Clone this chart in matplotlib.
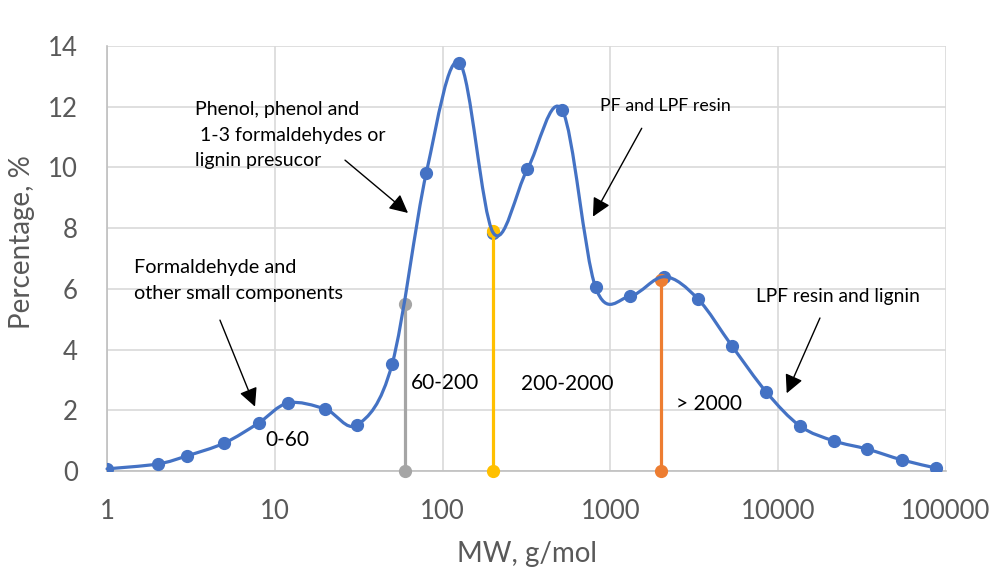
import numpy as np
import matplotlib
matplotlib.use("Agg")
import matplotlib.pyplot as plt
from matplotlib.path import Path
from matplotlib.patches import PathPatch

plt.rcParams['font.family'] = ['Lato', 'DejaVu Sans']

# ---- data ----
mw = [1, 2, 3, 5, 8, 12, 20, 31, 50, 80, 126, 200, 320, 516, 816, 1310,
      2100, 3320, 5300, 8500, 13500, 21500, 34000, 55000, 87000]
pct = [0.07, 0.23, 0.5, 0.92, 1.58, 2.24, 2.04, 1.52, 3.52, 9.83, 13.45, 7.85,
       9.94, 11.89, 6.05, 5.76, 6.4, 5.67, 4.12, 2.6, 1.48, 0.99, 0.72, 0.36, 0.1]

cut_x = [60, 200, 2000]
cut_y = [5.5, 7.92, 6.29]
cut_colors = ['#A5A5A5', '#FFC000', '#ED7D31']

range_labels = ['0-60', '60-200', '200-2000', '> 2000']
range_label_pos = [(8.74, 1.02), (64.8, 2.9), (293, 2.87), (2460, 2.21)]

y_ticks = [0, 2, 4, 6, 8, 10, 12, 14]
x_ticks = [1, 10, 100, 1000, 10000, 100000]
x_tick_labels = ['1', '10', '100', '1000', '10000', '100000']

BLUE = '#4472C4'

fig = plt.figure(figsize=(9.92, 5.68), dpi=100)
ax = fig.add_axes([0.1079, 0.1708, 0.8457, 0.7482])
ax.set_xscale('log')
ax.set_xlim(1, 100000)
ax.set_ylim(0, 14)


def px(xp, yp):
    """reference pixel position -> data coordinates (for text placement)"""
    return 10 ** ((xp - 107) / 167.8), (471 - yp) / 30.36


# smoothed line (Excel-like Bezier smoothing in display space)
P = ax.transData.transform(np.column_stack([mw, pct]))
n = len(P)
verts = [tuple(P[0])]
codes = [Path.MOVETO]
for i in range(n - 1):
    p0 = P[i - 1] if i > 0 else P[i]
    p1 = P[i]
    p2 = P[i + 1]
    p3 = P[i + 2] if i + 2 < n else P[i + 1]
    c1 = p1 + (p2 - p0) / 6.0
    c2 = p2 - (p3 - p1) / 6.0
    verts += [tuple(c1), tuple(c2), tuple(p2)]
    codes += [Path.CURVE4] * 3
path = Path(verts, codes)
line = PathPatch(path, transform=None, facecolor='none', edgecolor=BLUE,
                 lw=2.3, zorder=3, capstyle='round', joinstyle='round')
fig.patches.append(line)
line.set_figure(fig)
line.set_clip_on(False)
ax.plot(mw, pct, ls='none', marker='o', ms=8.5, color=BLUE, zorder=4)

for cx, cy, cc in zip(cut_x, cut_y, cut_colors):
    ax.plot([cx, cx], [0, cy], color=cc, lw=2.3, marker='o', ms=8.5, zorder=5,
            clip_on=False)

# grid and axes
ax.set_yticks(y_ticks)
ax.set_xticks(x_ticks)
ax.set_xticklabels(x_tick_labels)
ax.xaxis.set_minor_locator(matplotlib.ticker.NullLocator())
ax.grid(True, color='#D9D9D9', lw=1.2, zorder=0)
ax.set_axisbelow(True)
for s in ['top', 'right']:
    ax.spines[s].set_visible(False)
ax.spines['left'].set_color('#BFBFBF')
ax.spines['bottom'].set_color('#BFBFBF')
ax.spines['left'].set_linewidth(1.2)
ax.spines['bottom'].set_linewidth(1.2)
ax.tick_params(axis='both', length=0, labelsize=18.5, colors='#595959')
ax.tick_params(axis='y', pad=21)
ax.tick_params(axis='x', pad=20)
ax.set_ylabel('Percentage, %', fontsize=20, color='#595959')
ax.set_xlabel('MW, g/mol', fontsize=20, color='#595959')
ax.yaxis.set_label_coords(-0.086, (471 - 242) / 425)
ax.xaxis.set_label_coords((527 - 107) / 839, -0.164)

# range labels
for lab, (lx, ly) in zip(range_labels, range_label_pos):
    ax.text(lx, ly, lab, fontsize=15, color='black', ha='left', va='center', zorder=6)

# annotations
ann_kw = dict(arrowstyle='-|>', color='black', lw=1.0, mutation_scale=28,
              shrinkA=0, shrinkB=0)
ax.annotate('', xy=(62.2, 8.5), xytext=(26.2, 10.24), arrowprops=ann_kw)
ax.annotate('', xy=(787, 8.38), xytext=(1537, 11.29), arrowprops=ann_kw)
ax.annotate('', xy=(7.62, 2.12), xytext=(4.71, 4.97), arrowprops=ann_kw)
ax.annotate('', xy=(11240, 2.56), xytext=(17740, 5.04), arrowprops=ann_kw)

ax.text(*px(195, 101), 'Phenol, phenol and\n 1-3 formaldehydes or\nlignin presucor',
        fontsize=14, ha='left', va='top', linespacing=1.62)
ax.text(*px(600, 106), 'PF and LPF resin', fontsize=12.8, ha='left', va='center')
ax.text(*px(134, 259), 'Formaldehyde and\nother small components',
        fontsize=14.3, ha='left', va='top', linespacing=1.62)
ax.text(*px(756, 296), 'LPF resin and lignin', fontsize=13.8, ha='left', va='center')

fig.savefig('out.png', dpi=100)
